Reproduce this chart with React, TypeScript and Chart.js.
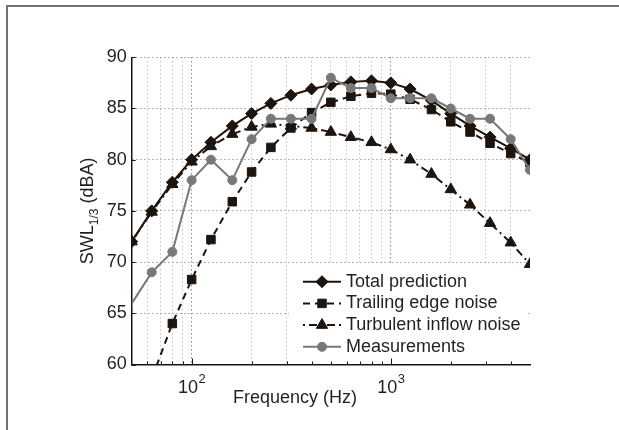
import React, { useEffect, useRef } from 'react';
import { Chart, registerables } from 'chart.js';

Chart.register(...registerables);

// ---- data ----
const frequencies = [50, 63, 80, 100, 125, 160, 200, 250, 315, 400, 500, 630, 800, 1000, 1250, 1600, 2000, 2500, 3150, 4000, 5000];
const totalPrediction = [72, 75, 77.8, 80, 81.7, 83.3, 84.5, 85.5, 86.3, 86.9, 87.3, 87.6, 87.7, 87.5, 86.9, 85.8, 84.5, 83.3, 82.2, 81.1, 80];
const trailingEdgeNoise = [52, 58.6, 64, 68.3, 72.2, 75.9, 78.8, 81.2, 83.1, 84.6, 85.6, 86.2, 86.5, 86.4, 85.9, 84.9, 83.7, 82.7, 81.6, 80.6, 79.7];
const turbulentInflowNoise = [72, 74.9, 77.6, 79.8, 81.3, 82.5, 83.2, 83.5, 83.3, 83.1, 82.7, 82.2, 81.7, 81, 80, 78.6, 77.1, 75.6, 73.8, 71.9, 69.8];
const measurementFrequencies = [40, 63, 80, 100, 125, 160, 200, 250, 315, 400, 500, 630, 800, 1000, 1250, 1600, 2000, 2500, 3150, 4000, 5000];
const measurements = [63, 69, 71, 78, 80, 78, 82, 84, 84, 84, 88, 87, 87, 86, 86, 86, 85, 84, 84, 82, 79];

const seriesLabels = ['Total prediction', 'Trailing edge noise', 'Turbulent inflow noise', 'Measurements'];
const xMin = 50;
const xMax = 5000;
const xGridValues = [60, 70, 80, 90, 100, 200, 300, 400, 500, 600, 700, 800, 900, 1000, 2000, 3000, 4000];
const xLabelValues = [100, 1000];
const yMin = 60;
const yMax = 90;
const yStep = 5;
const xTitle = 'Frequency (Hz)';
const yTitleMain = 'SWL';
const yTitleSub = '1/3';
const yTitleRest = ' (dBA)';

// ---- styles ----
const FONT = '"Liberation Sans", Arial, Helvetica, sans-serif';
const INK = '#1e140e';
const GRAY = '#787878';
const TEXT = '#231f20';

const pts = (xs: number[], ys: number[]) => xs.map((x, i) => ({ x, y: ys[i] }));

function drawMarker(ctx: CanvasRenderingContext2D, style: string, x: number, y: number, r: number, color: string) {
  ctx.save();
  ctx.fillStyle = color;
  ctx.strokeStyle = color;
  ctx.setLineDash([]);
  ctx.beginPath();
  if (style === 'rectRot') {
    ctx.moveTo(x, y - r); ctx.lineTo(x + r, y); ctx.lineTo(x, y + r); ctx.lineTo(x - r, y); ctx.closePath();
  } else if (style === 'rect') {
    const h = r * Math.SQRT1_2;
    ctx.rect(x - h, y - h, 2 * h, 2 * h);
  } else if (style === 'triangle') {
    let a = 0;
    ctx.moveTo(x + Math.sin(a) * r, y - Math.cos(a) * r);
    a += (2 * Math.PI) / 3; ctx.lineTo(x + Math.sin(a) * r, y - Math.cos(a) * r);
    a += (2 * Math.PI) / 3; ctx.lineTo(x + Math.sin(a) * r, y - Math.cos(a) * r);
    ctx.closePath();
  } else {
    ctx.arc(x, y, r, 0, Math.PI * 2);
  }
  ctx.fill();
  ctx.stroke();
  ctx.restore();
}

const decorPlugin = {
  id: 'decor',
  beforeDraw(chart: any) {
    const ctx = chart.ctx as CanvasRenderingContext2D;
    ctx.save();
    ctx.fillStyle = '#ffffff';
    ctx.fillRect(0, 0, chart.width, chart.height);
    ctx.fillStyle = '#737373';
    ctx.fillRect(6, 5, chart.width - 6, 2);
    ctx.fillRect(6, 5, 2, chart.height - 5);
    ctx.restore();
  },
  beforeDatasetsDraw(chart: any) {
    // legend background (hides grid only)
    const ctx = chart.ctx as CanvasRenderingContext2D;
    ctx.save();
    ctx.fillStyle = '#ffffff';
    ctx.fillRect(289, 265, 239, 98);
    ctx.restore();
  },
  afterDraw(chart: any) {
    const ctx = chart.ctx as CanvasRenderingContext2D;
    const area = chart.chartArea;
    const xs = chart.scales.x;
    const ys = chart.scales.y;
    ctx.save();
    // inward tick marks
    ctx.strokeStyle = INK;
    ctx.lineWidth = 1;
    ctx.setLineDash([]);
    ctx.beginPath();
    for (const v of xGridValues) {
      const px = Math.round(xs.getPixelForValue(v)) + 0.5;
      const isDecade = Math.abs(Math.log10(v) - Math.round(Math.log10(v))) < 1e-9;
      const len = isDecade ? 6 : 3;
      ctx.moveTo(px, area.bottom);
      ctx.lineTo(px, area.bottom - len);
    }
    for (let v = yMin; v <= yMax; v += yStep) {
      const py = Math.round(ys.getPixelForValue(v)) + 0.5;
      ctx.moveTo(area.left, py);
      ctx.lineTo(area.left + 4, py);
    }
    ctx.stroke();

    // x decade labels 10^n
    ctx.fillStyle = TEXT;
    ctx.textBaseline = 'alphabetic';
    ctx.textAlign = 'left';
    for (const v of xLabelValues) {
      const px = xs.getPixelForValue(v);
      const base = '10';
      const exp = String(Math.round(Math.log10(v)));
      ctx.font = `18px ${FONT}`;
      const wb = ctx.measureText(base).width;
      ctx.font = `13px ${FONT}`;
      const we = ctx.measureText(exp).width;
      const start = px - (wb + we) / 2;
      ctx.font = `18px ${FONT}`;
      ctx.fillText(base, start, 392.5);
      ctx.font = `13px ${FONT}`;
      ctx.fillText(exp, start + wb + 0.5, 383);
    }

    // x title
    ctx.font = `18px ${FONT}`;
    ctx.textAlign = 'center';
    ctx.fillText(xTitle, 295, 403);

    // y title (rotated, with subscript)
    ctx.save();
    ctx.translate(93, (area.top + area.bottom) / 2);
    ctx.rotate(-Math.PI / 2);
    ctx.textAlign = 'left';
    ctx.font = `18px ${FONT}`;
    const w1 = ctx.measureText(yTitleMain).width;
    const w3 = ctx.measureText(yTitleRest).width;
    ctx.font = `12px ${FONT}`;
    const w2 = ctx.measureText(yTitleSub).width;
    let tx = -(w1 + w2 + w3) / 2;
    ctx.font = `18px ${FONT}`;
    ctx.fillText(yTitleMain, tx, 0);
    tx += w1;
    ctx.font = `12px ${FONT}`;
    ctx.fillText(yTitleSub, tx, 5);
    tx += w2;
    ctx.font = `18px ${FONT}`;
    ctx.fillText(yTitleRest, tx, 0);
    ctx.restore();

    // legend
    const rowY0 = 281.7;
    const rowStep = 21.7;
    chart.data.datasets.forEach((ds: any, i: number) => {
      const y = rowY0 + i * rowStep;
      ctx.save();
      ctx.strokeStyle = ds.borderColor;
      ctx.lineWidth = ds.borderWidth;
      ctx.setLineDash(ds.borderDash || []);
      ctx.beginPath();
      ctx.moveTo(303, y);
      ctx.lineTo(341, y);
      ctx.stroke();
      ctx.restore();
      drawMarker(ctx, ds.pointStyle, 322, y, ds.pointRadius, ds.pointBackgroundColor);
      ctx.fillStyle = TEXT;
      ctx.font = `18px ${FONT}`;
      ctx.textAlign = 'left';
      ctx.textBaseline = 'alphabetic';
      ctx.fillText(ds.label, 346, y + 5);
    });
    ctx.restore();
  },
};

export default function App() {
  const ref = useRef<HTMLCanvasElement>(null);

  useEffect(() => {
    const canvas = ref.current;
    if (!canvas) return;
    const chart = new Chart(canvas, {
      type: 'line',
      data: {
        datasets: [
          {
            label: seriesLabels[0],
            data: pts(frequencies, totalPrediction),
            borderColor: INK,
            backgroundColor: INK,
            borderWidth: 2,
            pointStyle: 'rectRot',
            pointRadius: 6,
            pointBackgroundColor: INK,
            pointBorderColor: INK,
            pointBorderWidth: 1,
            order: 4,
          },
          {
            label: seriesLabels[1],
            data: pts(frequencies, trailingEdgeNoise),
            borderColor: INK,
            backgroundColor: INK,
            borderWidth: 2,
            borderDash: [7, 5],
            pointStyle: 'rect',
            pointRadius: 6,
            pointBackgroundColor: INK,
            pointBorderColor: INK,
            pointBorderWidth: 1,
            order: 3,
          },
          {
            label: seriesLabels[2],
            data: pts(frequencies, turbulentInflowNoise),
            borderColor: INK,
            backgroundColor: INK,
            borderWidth: 2,
            borderDash: [2, 4, 8, 4],
            pointStyle: 'triangle',
            pointRadius: 6.5,
            pointBackgroundColor: INK,
            pointBorderColor: INK,
            pointBorderWidth: 1,
            order: 2,
          },
          {
            label: seriesLabels[3],
            data: pts(measurementFrequencies, measurements),
            borderColor: GRAY,
            backgroundColor: GRAY,
            borderWidth: 2,
            pointStyle: 'circle',
            pointRadius: 4.5,
            pointBackgroundColor: GRAY,
            pointBorderColor: GRAY,
            pointBorderWidth: 1,
            order: 1,
          },
        ],
      },
      options: {
        responsive: false,
        animation: false,
        devicePixelRatio: 1,
        layout: { autoPadding: false, padding: { top: 57.3, right: 89, bottom: 0, left: 0 } },
        plugins: { legend: { display: false }, tooltip: { enabled: false }, title: { display: false } },
        events: [],
        scales: {
          x: {
            type: 'logarithmic',
            min: xMin,
            max: xMax,
            afterBuildTicks: (s: any) => {
              s.ticks = xGridValues.map((v) => ({ value: v }));
            },
            afterFit: (s: any) => {
              s.height = 65.5;
            },
            ticks: { display: false },
            grid: {
              drawTicks: false,
              lineWidth: 1,
              color: (c: any) => {
                const v = c.tick ? c.tick.value : 0;
                const lg = Math.log10(v);
                return Math.abs(lg - Math.round(lg)) < 1e-9 ? '#555555' : '#a8a8a8';
              },
            },
            border: { display: true, color: INK, width: 1.5, dash: [1, 3] },
          },
          y: {
            type: 'linear',
            min: yMin,
            max: yMax,
            afterFit: (s: any) => {
              s.width = 131.7;
            },
            ticks: {
              stepSize: yStep,
              color: TEXT,
              padding: 5,
              font: { family: FONT, size: 18 },
            },
            grid: { drawTicks: false, lineWidth: 1, color: '#666666' },
            border: { display: true, color: INK, width: 1.5, dash: [1, 3] },
          },
        },
      },
      plugins: [decorPlugin],
    } as any);
    return () => chart.destroy();
  }, []);

  return (
    <div style={{ position: 'absolute', left: 0, top: 0, width: 619, height: 430 }}>
      <canvas ref={ref} width={619} height={430} style={{ display: 'block', width: 619, height: 430 }} />
    </div>
  );
}
